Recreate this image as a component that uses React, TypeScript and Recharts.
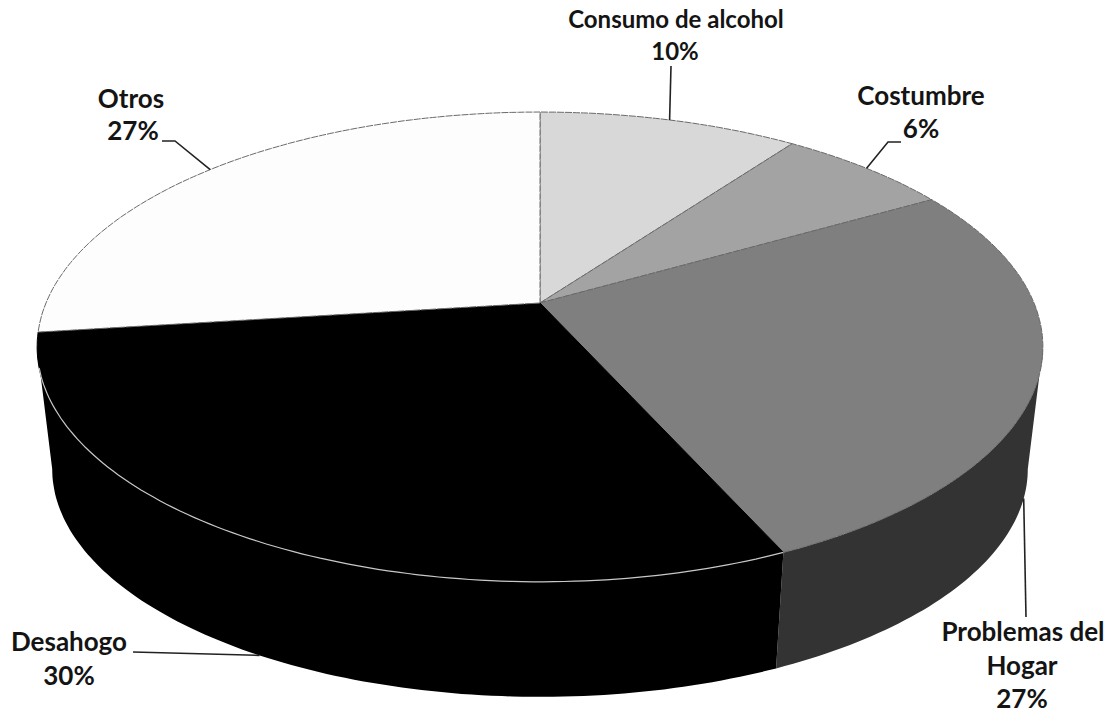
import { PieChart, Pie } from "recharts";

const categories = ["Consumo de alcohol", "Costumbre", "Problemas del Hogar", "Desahogo", "Otros"];
const shares = [10, 6.7, 26.6, 29.7, 27];
const printedPercents = ["10%", "6%", "27%", "30%", "27%"];
const labelRows = [["Consumo de alcohol"], ["Costumbre"], ["Problemas del", "Hogar"], ["Desahogo"], ["Otros"]];

const topColors = ["#d8d8d8", "#a3a3a3", "#7f7f7f", "#000000", "#fdfdfd"];
const wallColors = ["#6c6c6c", "#515151", "#333333", "#000000", "#7e7e7e"];
const edgeColors = ["#6a6a6a", "#6a6a6a", "#6a6a6a", "#000000", "#6a6a6a"];

// where each text row goes, name rows first and the percent last
const labelPlaces = [
  [[676, 28], [675, 60]],
  [[921, 105], [921, 138]],
  [[1023, 641], [1022, 675], [1022, 708]],
  [[69, 651], [69, 685]],
  [[131, 108], [133, 140]],
];
const labelFontSizes = [24, 26, 26, 26, 26];
// leader line bends, the rim end comes from the slice's own mid angle
const leaders = [
  [[671, 66]],
  [[888, 142], [901, 142]],
  [[1026, 617]],
  [[133, 652]],
  [[175, 141], [162, 141]],
];
const leaderFromBase = [false, false, true, true, false];

const data = categories.map((name, i) => ({ name, value: shares[i] }));

const PERSPECTIVE = 0.187; // tilt of the disc
const BACK = 170;
const BASE_SCALE = 0.97;
const VANISH_Y = 4416;
const WALL_FROM = 100.8;
const WALL_TO = 259.2;

// clockwise degrees from 12 o'clock -> screen, top face of the disc
function rim(cx: number, cy: number, r: number, deg: number) {
  const a = (deg * Math.PI) / 180;
  const u = Math.sin(a);
  const v = Math.cos(a);
  const d = 1 + PERSPECTIVE * v;
  return { x: cx + (r * u) / d, y: (cy - BACK * v) / d };
}

function toBase(cx: number, p: { x: number; y: number }) {
  return {
    x: cx + (p.x - cx) * BASE_SCALE,
    y: VANISH_Y + (p.y - VANISH_Y) * BASE_SCALE,
  };
}

function arcPoints(cx: number, cy: number, r: number, from: number, to: number) {
  const pts = [];
  const steps = Math.max(2, Math.ceil(to - from));
  for (let i = 0; i <= steps; i++) {
    pts.push(rim(cx, cy, r, from + ((to - from) * i) / steps));
  }
  return pts;
}

const toD = (pts: { x: number; y: number }[]) =>
  pts.map((p, i) => `${i ? "L" : "M"}${p.x.toFixed(1)} ${p.y.toFixed(1)}`).join(" ");

function DiscSlice(props: any) {
  const { cx, cy, outerRadius, startAngle, endAngle, index } = props;
  const from = 90 - startAngle;
  const to = 90 - endAngle;
  const arc = arcPoints(cx, cy, outerRadius, from, to);
  const wallA = Math.max(from, WALL_FROM);
  const wallB = Math.min(to, WALL_TO);
  const hasWall = wallB > wallA;
  const front = hasWall ? arcPoints(cx, cy, outerRadius, wallA, wallB) : [];
  const back = front.map((p) => toBase(cx, p)).reverse();
  return (
    <g>
      {hasWall && <path d={toD([...front, ...back]) + " Z"} fill={wallColors[index]} />}
      <path
        d={toD([{ x: cx, y: cy }, ...arc]) + " Z"}
        fill={topColors[index]}
        stroke={edgeColors[index]}
        strokeWidth={1}
        strokeDasharray={index === 3 ? undefined : "7 1"}
      />
      {index === 3 && (
        <path d={toD(arcPoints(cx, cy, outerRadius, wallA, wallB - 5))} fill="none" stroke="#c8c8c8" strokeWidth={1.2} />
      )}
    </g>
  );
}

function SliceLabel(props: any) {
  const { cx, cy, outerRadius, index, midAngle } = props;
  const onRim = rim(cx, cy, outerRadius, 90 - midAngle);
  const start = leaderFromBase[index] ? toBase(cx, onRim) : onRim;
  const d =
    `M${start.x.toFixed(1)} ${start.y.toFixed(1)} ` +
    leaders[index].map(([x, y]) => `L${x} ${y}`).join(" ");
  const rows = [...labelRows[index], printedPercents[index]];
  return (
    <g>
      <path d={d} fill="none" stroke="#222222" strokeWidth={1.6} />
      {rows.map((row, i) => (
        <text
          key={row}
          x={labelPlaces[index][i][0]}
          y={labelPlaces[index][i][1]}
          textAnchor="middle"
          fontFamily="Lato, 'Open Sans', sans-serif"
          fontWeight={700}
          fontSize={labelFontSizes[index]}
          fill="#141414"
        >
          {row}
        </text>
      ))}
    </g>
  );
}

export default function App() {
  return (
    <div style={{ position: "absolute", left: 0, top: 0, width: 1114, height: 715, background: "#fff" }}>
      <PieChart width={1114} height={715} margin={{ top: 0, right: 0, bottom: 0, left: 0 }}>
        <Pie
          data={data}
          dataKey="value"
          nameKey="name"
          cx={540}
          cy={303}
          outerRadius={494}
          startAngle={90}
          endAngle={-270}
          stroke="none"
          shape={DiscSlice}
          label={SliceLabel}
          labelLine={false}
          isAnimationActive={false}
        />
      </PieChart>
    </div>
  );
}
